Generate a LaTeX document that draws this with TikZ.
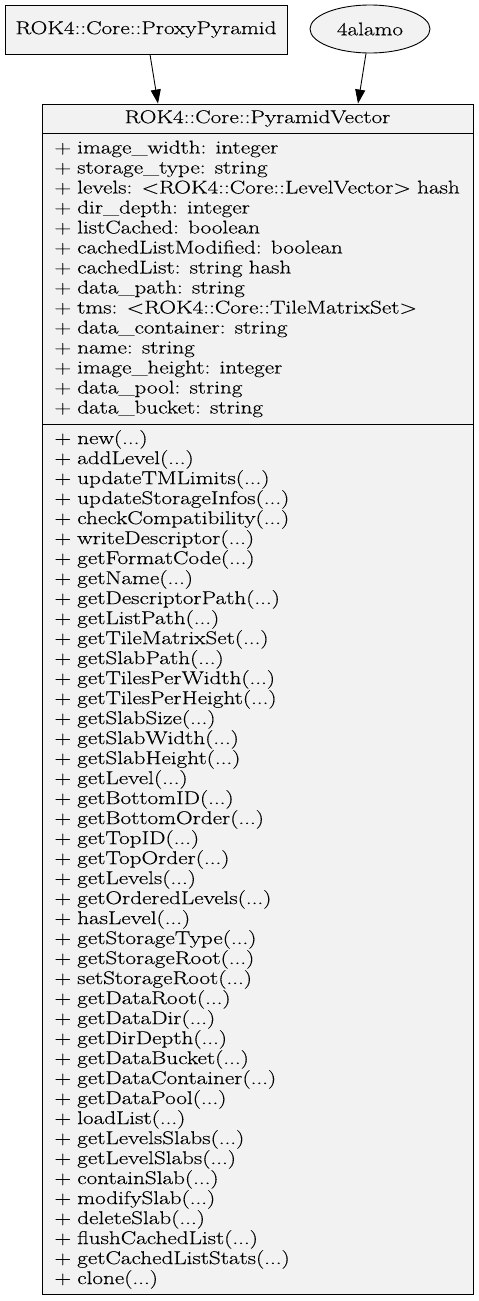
\documentclass[tikz,border=0pt]{standalone}
\usepackage{fontspec}
\newfontfamily\umlfont{Latin Modern Roman}[FakeStretch=1.25,FakeBold=0.3]
\usepackage{tikz}
\usetikzlibrary{arrows.meta}
\usetikzlibrary{shapes.geometric}

\begin{document}
\begin{tikzpicture}[x=1pt,y=1pt,
  box/.style={draw=black,fill=black!5,line width=0.9pt,inner sep=0pt,font=\umlfont\fontsize{18.5}{20}\selectfont},
  part/.style={box,anchor=north west,minimum width=431,text width=407,align=left,inner xsep=12},
  edge/.style={-{Triangle[length=14,width=10]},line width=0.9pt}]
  \useasboundingbox (0,0) rectangle (479,-1301);
  % parents
  \draw (146,-29.5) node (proxy) [box,minimum width=282,minimum height=49] {ROK4::Core::ProxyPyramid};
  \draw (370,-29) node (alamo) [box,ellipse,minimum width=120,minimum height=48] {4alamo};
  % the class
  \draw (257.5,-118.5) node (title) [box,minimum width=431,minimum height=29] {ROK4::Core::PyramidVector};
  \draw (42,-133) node (attrs) [part,minimum height=291] {%
    + image\_width: integer\\
    + storage\_type: string\\
    + levels: <ROK4::Core::LevelVector> hash\\
    + dir\_depth: integer\\
    + listCached: boolean\\
    + cachedListModified: boolean\\
    + cachedList: string hash\\
    + data\_path: string\\
    + tms: <ROK4::Core::TileMatrixSet>\\
    + data\_container: string\\
    + name: string\\
    + image\_height: integer\\
    + data\_pool: string\\
    + data\_bucket: string};
  \draw (42,-424) node (meths) [part,minimum height=870] {%
    + new(...)\\
    + addLevel(...)\\
    + updateTMLimits(...)\\
    + updateStorageInfos(...)\\
    + checkCompatibility(...)\\
    + writeDescriptor(...)\\
    + getFormatCode(...)\\
    + getName(...)\\
    + getDescriptorPath(...)\\
    + getListPath(...)\\
    + getTileMatrixSet(...)\\
    + getSlabPath(...)\\
    + getTilesPerWidth(...)\\
    + getTilesPerHeight(...)\\
    + getSlabSize(...)\\
    + getSlabWidth(...)\\
    + getSlabHeight(...)\\
    + getLevel(...)\\
    + getBottomID(...)\\
    + getBottomOrder(...)\\
    + getTopID(...)\\
    + getTopOrder(...)\\
    + getLevels(...)\\
    + getOrderedLevels(...)\\
    + hasLevel(...)\\
    + getStorageType(...)\\
    + getStorageRoot(...)\\
    + setStorageRoot(...)\\
    + getDataRoot(...)\\
    + getDataDir(...)\\
    + getDirDepth(...)\\
    + getDataBucket(...)\\
    + getDataContainer(...)\\
    + getDataPool(...)\\
    + loadList(...)\\
    + getLevelsSlabs(...)\\
    + getLevelSlabs(...)\\
    + containSlab(...)\\
    + modifySlab(...)\\
    + deleteSlab(...)\\
    + flushCachedList(...)\\
    + getCachedListStats(...)\\
    + clone(...)};
  % inheritance
  \draw[edge] ([xshift=4]proxy.south) -- ([xshift=-99.5]title.north);
  \draw[edge] ([xshift=-4]alamo.south) -- ([xshift=100.5]title.north);
\end{tikzpicture}
\end{document}
